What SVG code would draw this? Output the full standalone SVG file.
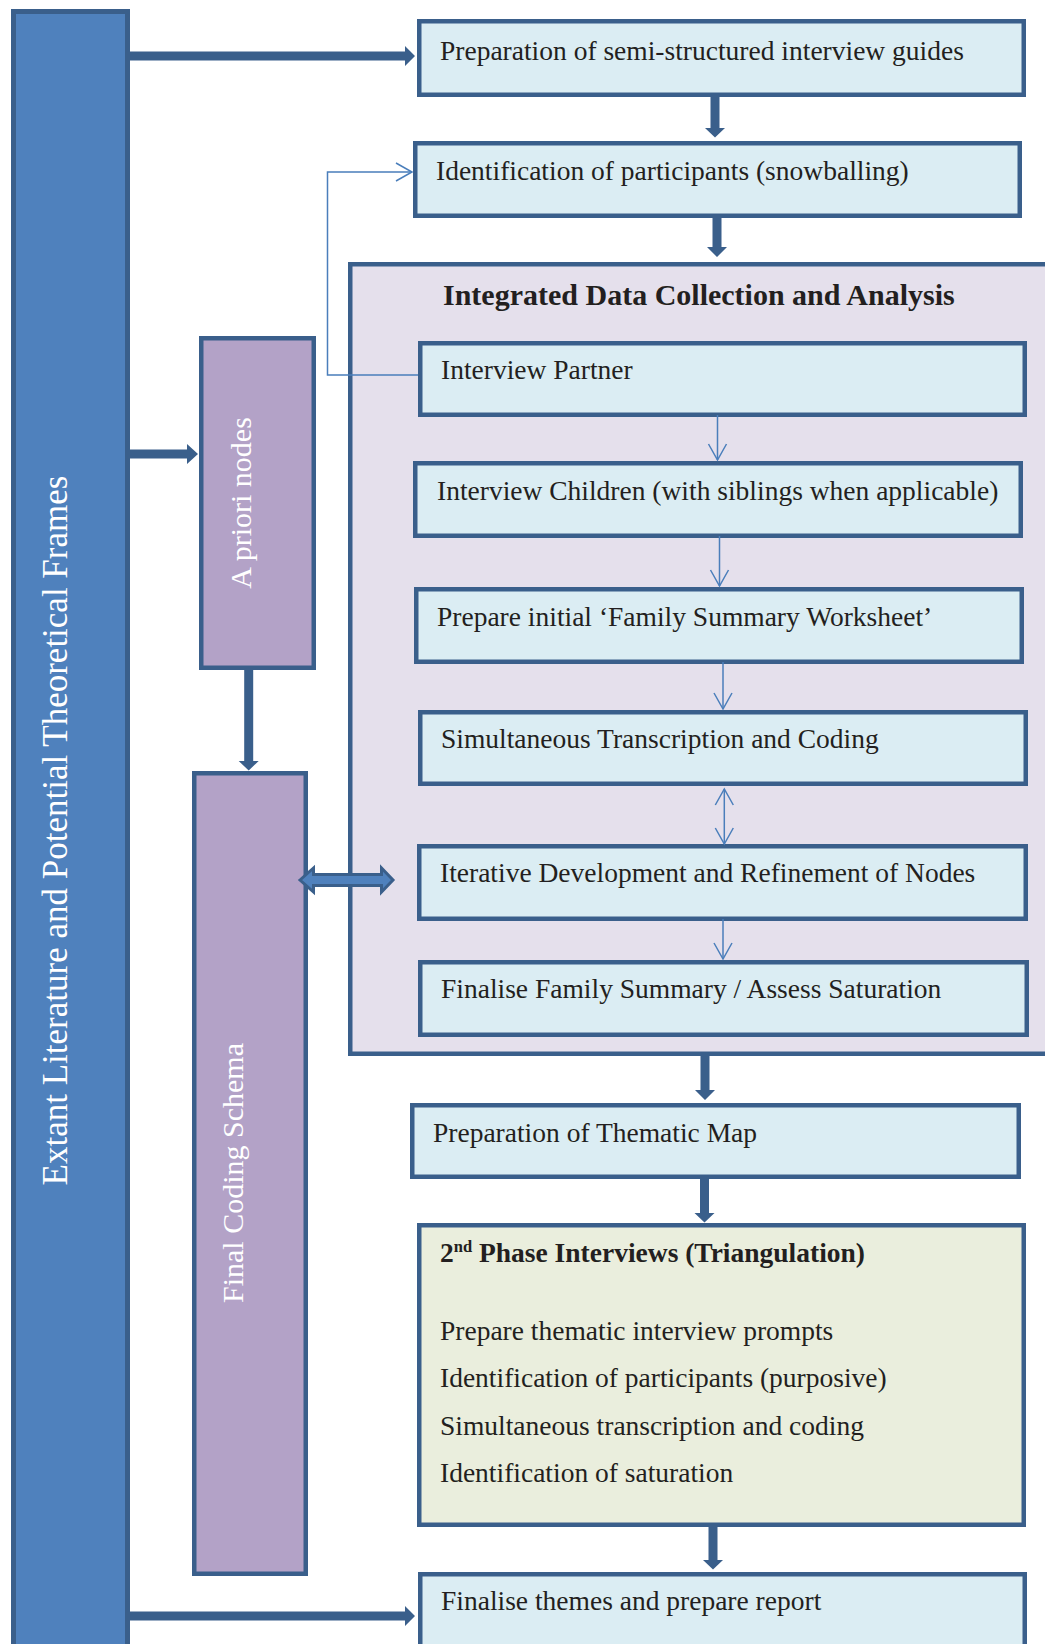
<svg xmlns="http://www.w3.org/2000/svg" width="1045" height="1644" viewBox="0 0 1045 1644">
  <style>
    .box { fill: #dbedf3; stroke: #3a5f8b; stroke-width: 4.5; }
    .group { fill: #e5e0ec; stroke: #3a5f8b; stroke-width: 4.5; }
    .phase { fill: #eaeedd; stroke: #3a5f8b; stroke-width: 4.5; }
    .purple { fill: #b3a2c7; stroke: #3a5f8b; stroke-width: 4.5; }
    .bar { fill: #4f81bd; stroke: #3a5f8b; stroke-width: 5; }
    .t { font-family: "Liberation Serif", "Times New Roman", serif; font-size: 27.5px; fill: #231f20; }
    .tb { font-family: "Liberation Serif", "Times New Roman", serif; font-weight: bold; fill: #231f20; }
    .tw { font-family: "Liberation Serif", "Times New Roman", serif; fill: #ffffff; text-anchor: middle; }
    .thick { fill: #3a5f8b; }
    .thin { fill: none; stroke: #4a7ebb; stroke-width: 1.5; }
    .block { fill: #4f81bd; stroke: #3a5f8b; stroke-width: 3; stroke-linejoin: miter; }
  </style>
  <defs>
    <marker id="chev" markerUnits="userSpaceOnUse" markerWidth="20" markerHeight="22" refX="17" refY="10" orient="auto-start-reverse" overflow="visible">
      <path d="M1,1 L17,10 L1,19" fill="none" stroke="#4a7ebb" stroke-width="1.5"/>
    </marker>
  </defs>

  <rect width="1045" height="1644" fill="#ffffff"/>

  <!-- left column: literature bar -->
  <g id="literature">
    <rect class="bar" x="13.5" y="11.5" width="114" height="1700"/>
    <text class="tw" font-size="35" transform="translate(66.5 830.5) rotate(-90)">Extant Literature and Potential Theoretical Frames</text>
  </g>

  <g id="apriori">
    <rect class="purple" x="201.25" y="338.25" width="112.5" height="329.5"/>
    <text class="tw" font-size="30" transform="translate(251 503) rotate(-90)">A priori nodes</text>
  </g>

  <g id="coding-schema">
    <rect class="purple" x="194.25" y="773.25" width="111.5" height="800.5"/>
    <text class="tw" font-size="30" transform="translate(243 1173) rotate(-90)">Final Coding Schema</text>
  </g>

  <!-- main flow -->
  <g id="guides">
    <rect class="box" x="419.25" y="21.25" width="604.5" height="73.5"/>
    <text class="t" x="440" y="60">Preparation of semi-structured interview guides</text>
  </g>

  <g id="snowballing">
    <rect class="box" x="415.25" y="143.25" width="604.5" height="72.5"/>
    <text class="t" x="436" y="180">Identification of participants (snowballing)</text>
  </g>

  <g id="integrated">
    <rect class="group" x="350.25" y="264.25" width="750" height="789.5"/>
    <text class="tb" font-size="30" x="443" y="305">Integrated Data Collection and Analysis</text>
  </g>

  <g id="partner">
    <rect class="box" x="420.25" y="343.25" width="604.5" height="71.5"/>
    <text class="t" x="441" y="379">Interview Partner</text>
  </g>

  <g id="children">
    <rect class="box" x="415.25" y="463.25" width="605.5" height="72.5"/>
    <text class="t" x="437" y="500">Interview Children (with siblings when applicable)</text>
  </g>

  <g id="worksheet">
    <rect class="box" x="416.25" y="589.25" width="605.5" height="72.5"/>
    <text class="t" x="437" y="626">Prepare initial ‘Family Summary Worksheet’</text>
  </g>

  <g id="transcription">
    <rect class="box" x="420.25" y="712.25" width="605.5" height="71.5"/>
    <text class="t" x="441" y="748">Simultaneous Transcription and Coding</text>
  </g>

  <g id="nodes">
    <rect class="box" x="419.25" y="846.25" width="606.5" height="72.5"/>
    <text class="t" x="440" y="882">Iterative Development and Refinement of Nodes</text>
  </g>

  <g id="saturation">
    <rect class="box" x="420.25" y="962.25" width="606.5" height="72.5"/>
    <text class="t" x="441" y="998">Finalise Family Summary / Assess Saturation</text>
  </g>

  <g id="thematic-map">
    <rect class="box" x="412.25" y="1105.25" width="606.5" height="71.5"/>
    <text class="t" x="433" y="1142">Preparation of Thematic Map</text>
  </g>

  <g id="phase-two">
    <rect class="phase" x="419.25" y="1225.25" width="604.5" height="299.5"/>
    <text class="tb" font-size="27.5" x="440" y="1262">2<tspan font-size="16.5" dy="-10">nd</tspan><tspan dy="10"> Phase Interviews (Triangulation)</tspan></text>
    <text class="t" x="440" y="1340">Prepare thematic interview prompts</text>
    <text class="t" x="440" y="1387">Identification of participants (purposive)</text>
    <text class="t" x="440" y="1435">Simultaneous transcription and coding</text>
    <text class="t" x="440" y="1482">Identification of saturation</text>
  </g>

  <g id="report">
    <rect class="box" x="420.25" y="1574.25" width="604.5" height="100"/>
    <text class="t" x="441" y="1610">Finalise themes and prepare report</text>
  </g>

  <!-- connectors -->
  <g id="connectors">
    <!-- thick horizontal arrows from the literature bar -->
    <polygon class="thick" points="130,51.5 405,51.5 405,46 415,56 405,66 405,60.5 130,60.5"/>
    <polygon class="thick" points="130,449.5 187,449.5 187,444 198,454 187,464 187,458.5 130,458.5"/>
    <polygon class="thick" points="130,1611.5 405,1611.5 405,1606 415,1616 405,1626 405,1620.5 130,1620.5"/>

    <!-- thick vertical arrows -->
    <polygon class="thick" points="710.5,97 719.5,97 719.5,128 725,128 715,137.5 705,128 710.5,128"/>
    <polygon class="thick" points="712.5,218 721.5,218 721.5,247 727,247 717,257 707,247 712.5,247"/>
    <polygon class="thick" points="244.2,670 253.2,670 253.2,761 258.7,761 248.7,770.5 238.7,761 244.2,761"/>
    <polygon class="thick" points="700.5,1056 709.5,1056 709.5,1090 715,1090 705,1100 695,1090 700.5,1090"/>
    <polygon class="thick" points="700,1179 709,1179 709,1213 714.5,1213 704.5,1222.5 694.5,1213 700,1213"/>
    <polygon class="thick" points="708.5,1527 717.5,1527 717.5,1560 723,1560 713,1569.5 703,1560 708.5,1560"/>

    <!-- thin arrows inside the analysis cycle -->
    <path class="thin" d="M418,375 H327.5 V172 H412" marker-end="url(#chev)"/>
    <path class="thin" d="M717.5,415 V460" marker-end="url(#chev)"/>
    <path class="thin" d="M719.5,536 V586" marker-end="url(#chev)"/>
    <path class="thin" d="M723,662 V709" marker-end="url(#chev)"/>
    <path class="thin" d="M724.3,789 V844" marker-start="url(#chev)" marker-end="url(#chev)"/>
    <path class="thin" d="M723,919 V959" marker-end="url(#chev)"/>

    <!-- two-way block arrow between coding schema and node refinement -->
    <polygon class="block" points="300,880 313.5,868 313.5,874.5 381.5,874.5 381.5,868 393,880 381.5,892 381.5,885.5 313.5,885.5 313.5,892"/>
  </g>
</svg>
